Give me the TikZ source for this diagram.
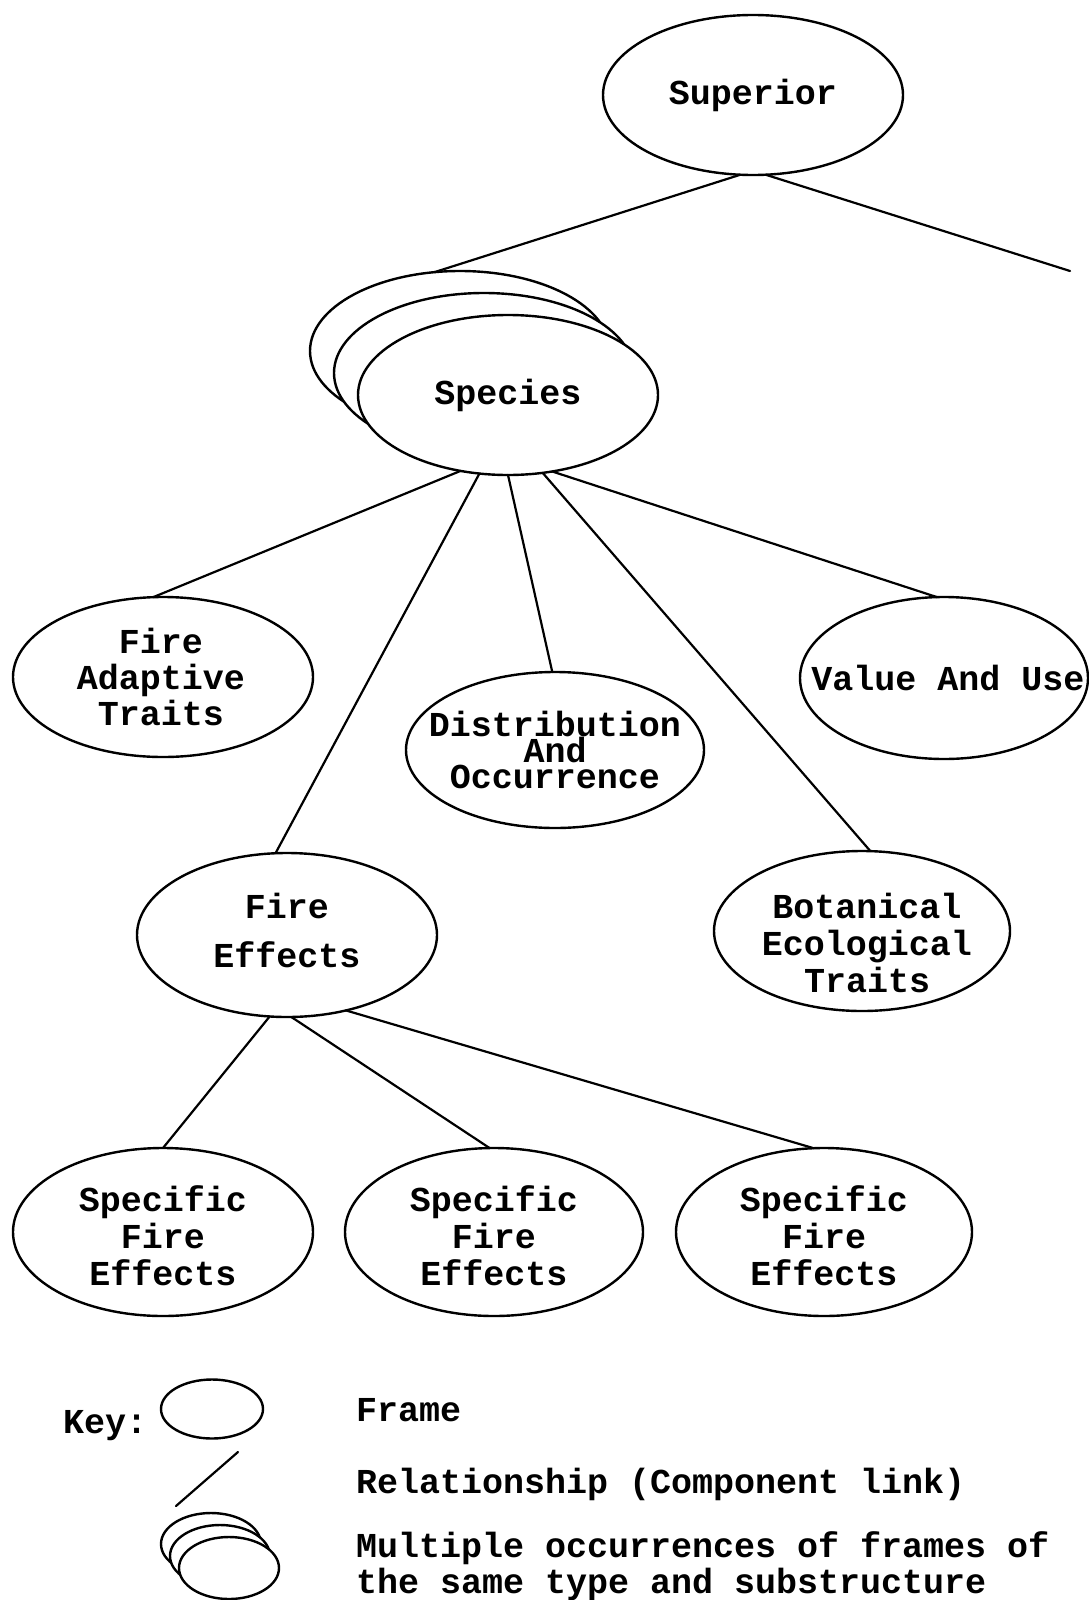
\documentclass[tikz,border=0pt]{standalone}
\usepackage{fontspec}
\setmonofont{Liberation Mono}
\usetikzlibrary{shapes.geometric}

\tikzset{
  frame/.style={ellipse, draw, line width=2.4pt, fill=white, inner sep=0pt, outer sep=0pt},
  ftext/.style={align=center, inner sep=0pt, font=\ttfamily\bfseries\fontsize{35}{#1}\selectfont},
  ftext/.default=36,
  link/.style={line width=2.2pt, line cap=round},
  keytext/.style={anchor=base west, inner sep=0pt, font=\ttfamily\bfseries\fontsize{35}{36}\selectfont}
}

\begin{document}
\begin{tikzpicture}[x=1pt, y=-1pt]
\useasboundingbox (0,0) rectangle (1088,1600);

% top frame
\node[frame, minimum width=300pt, minimum height=160pt,
      label={[ftext]center:Superior}] (sup) at (753,95) {};

% stacked Species frames (back to front)
\node[frame, minimum width=300pt, minimum height=160pt] (spC) at (460,351) {};
\node[frame, minimum width=300pt, minimum height=160pt] (spB) at (484,373) {};
\node[frame, minimum width=300pt, minimum height=160pt,
      label={[ftext]center:Species}] (sp) at (508,395) {};

% second level
\node[frame, minimum width=300pt, minimum height=160pt,
      label={[ftext=36, xshift=-2pt]center:Fire\\Adaptive\\Traits}] (fat) at (163,677) {};
\node[frame, minimum width=298pt, minimum height=156pt,
      label={[ftext=26]center:Distribution\\And\\Occurrence}] (dist) at (555,750) {};
\node[frame, minimum width=288pt, minimum height=162pt,
      label={[ftext, xshift=4pt]center:Value And Use}] (val) at (944,678) {};
\node[frame, minimum width=300pt, minimum height=164pt,
      label={[ftext=49, yshift=5pt]center:Fire\\Effects}] (fe) at (287,935) {};
\node[frame, minimum width=296pt, minimum height=160pt,
      label={[ftext=37, yshift=-12pt, xshift=5pt]center:Botanical\\Ecological\\Traits}] (bot) at (862,931) {};

% third level
\node[frame, minimum width=300pt, minimum height=168pt,
      label={[ftext=37, yshift=-4pt]center:Specific\\Fire\\Effects}] (sfa) at (163,1232) {};
\node[frame, minimum width=298pt, minimum height=168pt,
      label={[ftext=37, yshift=-4pt]center:Specific\\Fire\\Effects}] (sfb) at (494,1232) {};
\node[frame, minimum width=296pt, minimum height=168pt,
      label={[ftext=37, yshift=-4pt]center:Specific\\Fire\\Effects}] (sfc) at (824,1232) {};

% component links
\coordinate (offpage) at (1070,271);
\draw[link] (sup.261) -- (spC.108);
\draw[link] (sup.279) -- (offpage);

\draw[link] (sp.238) -- (fat.97);
\draw[link] (sp.250) -- (fe.98);
\draw[link] (sp.270) -- (dist.92);
\draw[link] (sp.294) -- (bot.84);
\draw[link] (sp.300) -- (val.95);

\draw[link] (fe.258) -- (sfa.90);
\draw[link] (fe.273) -- (sfb.93);
\draw[link] (fe.308) -- (sfc.97);

% key
\node[keytext] (keylbl) at (63,1433) {Key:};
\node[frame, minimum width=102pt, minimum height=59pt] (kframe) at (212,1409) {};
\coordinate (kla) at (238,1452);
\coordinate (klb) at (176,1506);
\draw[link] (kla) -- (klb);
\node[frame, minimum width=100pt, minimum height=62pt] (kmC) at (211,1544) {};
\node[frame, minimum width=100pt, minimum height=62pt] (kmB) at (220,1556) {};
\node[frame, minimum width=100pt, minimum height=62pt] (kmA) at (229,1568) {};

\node[keytext] (kt1) at (356,1421) {Frame};
\node[keytext] (kt2) at (356,1493) {Relationship (Component link)};
\node[keytext] (kt3) at (356,1557) {Multiple occurrences of frames of};
\node[keytext] (kt4) at (356,1593) {the same type and substructure};
\end{tikzpicture}
\end{document}
